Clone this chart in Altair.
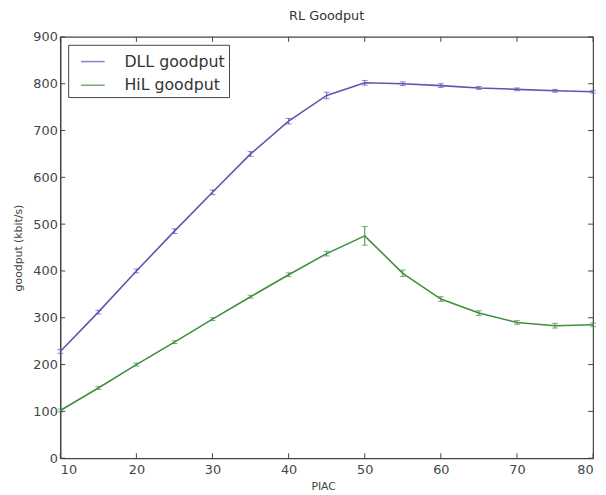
import altair as alt
import pandas as pd

piac = [10, 15, 20, 25, 30, 35, 40, 45, 50, 55, 60, 65, 70, 75, 80]
dll = [228, 312, 400, 485, 568, 650, 720, 775, 802, 800, 796, 791, 788, 785, 783]
dll_err = [4, 4, 4, 5, 5, 5, 6, 7, 5, 4, 4, 3, 3, 3, 3]
hil = [102, 150, 200, 248, 297, 345, 392, 437, 475, 395, 340, 310, 290, 283, 285]
hil_err = [3, 3, 3, 3, 3, 3, 4, 5, 20, 7, 5, 5, 4, 5, 4]
series = ["DLL goodput", "HiL goodput"]
colors = ["#5858b4", "#3f8f3f"]
x_ticks = [10, 20, 30, 40, 50, 60, 70, 80]
y_ticks = [0, 100, 200, 300, 400, 500, 600, 700, 800, 900]

W, H = 540, 427

rows = []
for i, x in enumerate(piac):
    rows.append({"PIAC": x, "val": dll[i], "lo": dll[i] - dll_err[i], "hi": dll[i] + dll_err[i], "series": series[0]})
    rows.append({"PIAC": x, "val": hil[i], "lo": hil[i] - hil_err[i], "hi": hil[i] + hil_err[i], "series": series[1]})
df = pd.DataFrame(rows)

xs = alt.Scale(domain=[10, 80], nice=False, zero=False)
ys = alt.Scale(domain=[0, 900], nice=False)
cs = alt.Scale(domain=series, range=colors)

legend = alt.Legend(
    title=None, orient="none", legendX=8, legendY=8, symbolType="stroke",
    symbolSize=576, symbolStrokeWidth=1.6, labelFontSize=16, labelFont="DejaVu Sans",
    labelColor="#333", strokeColor="#444", padding=4, rowPadding=3, labelOffset=19,
    symbolOffset=8, fillColor="white", cornerRadius=0)
color = alt.Color("series:N", scale=cs, legend=legend)

base = alt.Chart(df)

lines = base.mark_line(strokeWidth=1.6).encode(
    x=alt.X("PIAC:Q", scale=xs, axis=alt.Axis(values=x_ticks, title="PIAC", tickSize=0,
                                              labelPadding=6, titleAlign="left", titleX=254,
                                              titlePadding=4)),
    y=alt.Y("val:Q", scale=ys, axis=alt.Axis(values=y_ticks, title="goodput (kbit/s)", tickSize=0,
                                             labelPadding=3, titlePadding=10)),
    color=color,
)

errs = base.mark_rule(strokeWidth=1).encode(
    x=alt.X("PIAC:Q", scale=xs), y=alt.Y("lo:Q", scale=ys), y2="hi:Q", color=color)
caps_lo = base.mark_tick(orient="horizontal", size=6, thickness=1).encode(
    x=alt.X("PIAC:Q", scale=xs), y=alt.Y("lo:Q", scale=ys), color=color)
caps_hi = base.mark_tick(orient="horizontal", size=6, thickness=1).encode(
    x=alt.X("PIAC:Q", scale=xs), y=alt.Y("hi:Q", scale=ys), color=color)

xt = pd.DataFrame({"t": x_ticks})
yt = pd.DataFrame({"t": y_ticks})
tick_col = "#444"
xb = alt.Chart(xt).mark_rule(color=tick_col).encode(x=alt.X("t:Q", scale=xs), y=alt.value(H), y2=alt.value(H - 5))
xtop = alt.Chart(xt).mark_rule(color=tick_col).encode(x=alt.X("t:Q", scale=xs), y=alt.value(0), y2=alt.value(5))
yl = alt.Chart(yt).mark_rule(color=tick_col).encode(y=alt.Y("t:Q", scale=ys), x=alt.value(0), x2=alt.value(5))
yr = alt.Chart(yt).mark_rule(color=tick_col).encode(y=alt.Y("t:Q", scale=ys), x=alt.value(W), x2=alt.value(W - 5))

chart = alt.layer(lines, errs, caps_lo, caps_hi, xb, xtop, yl, yr).properties(
    width=W, height=H,
    title=alt.TitleParams("RL Goodput", fontSize=13, fontWeight="normal", font="DejaVu Sans",
                          color="#333", offset=8),
    autosize="none",
    padding={"left": 53, "top": 26, "right": 5, "bottom": 34},
).configure_axis(
    grid=False, domainColor="#444", domainWidth=1.2, labelColor="#444", labelFontSize=13,
    labelFont="DejaVu Sans", titleFont="DejaVu Sans", titleFontSize=11, titleFontWeight="normal",
    titleColor="#444",
).configure_view(stroke="#444", strokeWidth=1.2)

chart.save("out.html", embed_options={"renderer": "svg", "actions": False})
